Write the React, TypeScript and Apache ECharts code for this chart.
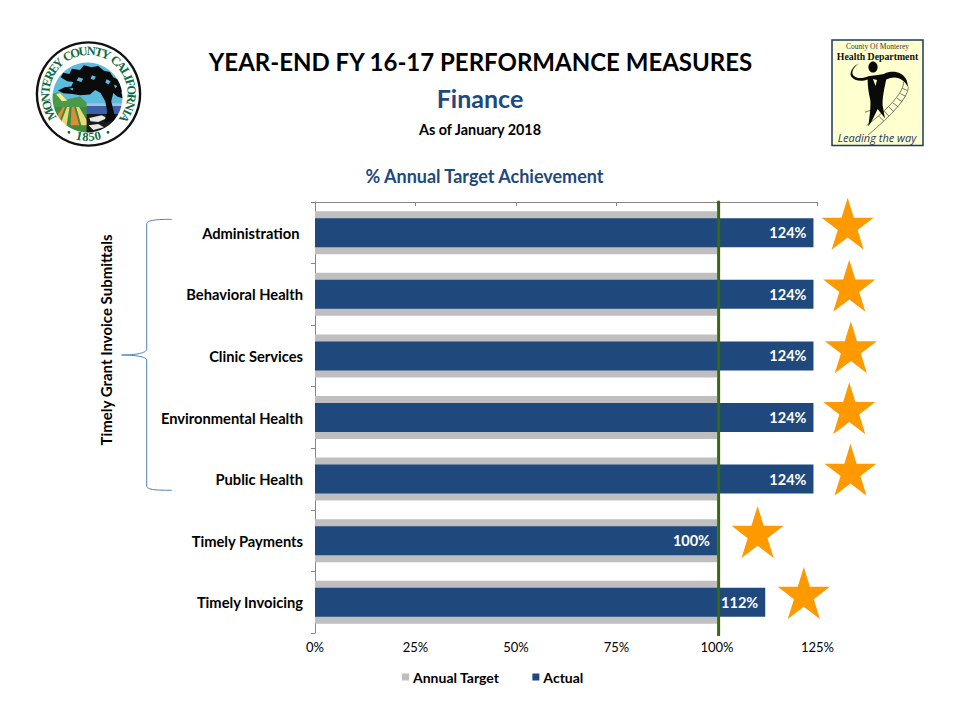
import React, { useEffect, useRef } from "react";
import * as echarts from "echarts";

const categories = ["Administration ", "Behavioral Health", "Clinic Services", "Environmental Health", "Public Health", "Timely Payments", "Timely Invoicing"];
const annualTarget = [100, 100, 100, 100, 100, 100, 100];
const actual = [124, 124, 124, 124, 124, 100, 112];
const xTicks = { min: 0, max: 125, interval: 25 };
const starX = [132.5, 132.9, 133.3, 132.9, 133.2, 110.1, 121.6];
const starY = [0.354, 1.36, 2.36, 3.35, 4.35, 5.36, 6.35];
const targetLineX = [100.4, 100.4];
const targetLineY = [-0.02, 7.05];

const FONT = "Lato";
const NAVY = "#1F497D";
const SKY = "#5DBBDD";
const STAR = "path://M50 0L61.8 36.3L100 36.3L69.1 58.8L80.9 95.1L50 72.6L19.1 95.1L30.9 58.8L0 36.3L38.2 36.3Z";

const SHAPES: Record<string, string> = {
  brace: "M171.7 219.3C158 219.3 146.7 220 146.7 224L146.7 349C146.7 353 136 355 121.7 355C136 355 146.7 357 146.7 360L146.7 486C146.7 490 158 490.3 171.7 490.3",
  sealField: "M55 205L172 205L172 295L55 295Z",
  sealStripeA: "M125 205L132 205L148 262L122 262Z M100 205L106 205L84 262L64 262Z",
  sealStripeB: "M112 205L119 205L110 262L90 262Z M138 205L146 205L172 250L172 262L154 262Z",
  sealHills: "M55 172L85 163L110 185L150 176L172 196L172 207L55 207Z",
  sealSnow: "M78 168L90 166L112 188L96 190Z",
  sealSea: "M170 204L290 204L290 228L170 228Z",
  sealSeaLight: "M170 196L290 196L290 204L170 204Z",
  sealRock: "M170 228L290 228L290 295L170 295Z",
  sealRockW: "M178 240L215 232L232 240L205 252L182 250Z M176 262L205 258L222 268L190 276Z",
  sealTree: "M92 118L100 104L118 108L126 92L150 96L162 82L185 88L205 84L222 98L240 102L250 118L268 126L284 150L274 164L280 182L262 176L250 165L244 190L254 232L264 248L222 254L232 222L226 190L212 165L196 156L180 170L150 172L128 168L100 166L84 158L104 148L124 146L130 132L112 130Z",
  sealHoles: "M146 118L160 122L154 132L140 128Z M186 112L198 116L192 126L182 122Z M230 124L242 130L236 140L226 134Z M118 152L130 150L128 158Z M252 140L262 144L256 152Z",
  figure: "M104 84C90 92 78 108 84 120C92 131 112 132 130 124C140 121 165 120 178 116C200 106 232 108 245 135L251 160C240 132 212 118 184 134C178 160 172 190 173 212L180 250L158 222C150 240 140 260 130 275C134 245 138 215 136 195C130 170 128 150 128 134C112 140 88 140 78 124C72 110 88 90 104 84Z",
  rails: "M250 158C248 190 200 240 130 300 M236 140C238 170 190 222 125 272 M120 232L170 214",
  rungs: "M232 160L246 166 M226 176L242 184 M216 190L232 200 M204 204L220 216 M192 216L206 230 M178 228L192 244 M162 244L176 258",
};
Object.keys(SHAPES).forEach((k) => echarts.graphic.registerShape(k, echarts.graphic.extendPath(SHAPES[k], {} as any)));

const SEAL_TEXT = "MONTEREY COUNTY CALIFORNIA";
const CHAR_W: Record<string, number> = { I: 0.42, M: 0.98, " ": 0.36, T: 0.68, Y: 0.7, E: 0.68, F: 0.62, L: 0.66, C: 0.72, O: 0.78, N: 0.78, U: 0.76, A: 0.76, R: 0.74 };

function sealLetters() {
  const out: any[] = [];
  const cx = 88.5, cy = 94, r = 43;
  const start = -125, end = 129;
  const chars = SEAL_TEXT.split("");
  const total = chars.reduce((s, c) => s + (CHAR_W[c] ?? 0.7), 0);
  let acc = 0;
  const font = "bold 12.5px 'Liberation Serif'";
  chars.forEach((c) => {
    const w = CHAR_W[c] ?? 0.7;
    const deg = start + ((acc + w / 2) / total) * (end - start);
    acc += w;
    if (c === " ") return;
    const a = (deg * Math.PI) / 180;
    out.push({
      type: "text", x: cx + r * Math.sin(a), y: cy - r * Math.cos(a), rotation: -a,
      style: { text: c, fill: "#0E6B3F", font, align: "center", verticalAlign: "middle" },
    });
  });
  "1850".split("").forEach((c, i) => {
    const deg = -12.5 + i * 8.3;
    const a = (deg * Math.PI) / 180;
    out.push({
      type: "text", x: cx + r * Math.sin(a), y: cy + r * Math.cos(a), rotation: a,
      style: { text: c, fill: "#0E6B3F", font, align: "center", verticalAlign: "middle" },
    });
  });
  [-27, 27].forEach((deg) => {
    const a = (deg * Math.PI) / 180;
    out.push({ type: "circle", shape: { cx: cx + r * Math.sin(a), cy: cy + r * Math.cos(a), r: 1.4 }, style: { fill: "#0E6B3F" } });
  });
  return out;
}

const S = 1 / 3;
const sealPath = (type: string, fill: string) => ({ type, x: 30, y: 38, scaleX: S, scaleY: S, style: { fill } });
const deptPath = (type: string, style: any) => ({ type, x: 825, y: 35, scaleX: S, scaleY: S, style });

const graphics: any[] = [
  { type: "brace", style: { fill: "none", stroke: "#4F81BD", lineWidth: 1 } },
  { type: "text", x: 106, y: 340, rotation: Math.PI / 2, style: { text: "Timely Grant Invoice Submittals", fill: "#000", font: `bold 15px ${FONT}`, align: "center", verticalAlign: "middle" } },
  { type: "circle", shape: { cx: 87.5, cy: 97.5, r: 36 }, style: { fill: SKY } },
  sealPath("sealField", "#3E8B3A"),
  sealPath("sealStripeA", "#E08A3C"),
  sealPath("sealStripeB", "#E9D97A"),
  sealPath("sealHills", "#4A9A4A"),
  sealPath("sealSnow", "#F3EE8C"),
  sealPath("sealSeaLight", "#9CC3E0"),
  sealPath("sealSea", "#3C5FAA"),
  sealPath("sealRock", "#1A1A1A"),
  sealPath("sealRockW", "#E8E8E8"),
  sealPath("sealTree", "#0B0B0B"),
  sealPath("sealHoles", SKY),
  { type: "ring", shape: { cx: 87.5, cy: 97.5, r0: 35, r: 60 }, style: { fill: "#fff" } },
  { type: "ring", shape: { cx: 88.5, cy: 94, r0: 50.4, r: 52.8 }, style: { fill: "#111" } },
  ...sealLetters(),
  { type: "rect", shape: { x: 832, y: 40, width: 91, height: 105.5 }, style: { fill: "#FFFFCF", stroke: "#1B3A5E", lineWidth: 1.5 } },
  { type: "text", x: 877.5, y: 46, style: { text: "County Of Monterey", fill: "#333", font: "7.5px 'Liberation Serif'", align: "center", verticalAlign: "middle" } },
  { type: "text", x: 877.5, y: 56, style: { text: "Health Department", fill: "#111", font: "bold 9.8px 'Liberation Serif'", align: "center", verticalAlign: "middle" } },
  deptPath("rails", { fill: "none", stroke: "#333", lineWidth: 2 }),
  deptPath("rungs", { fill: "none", stroke: "#333", lineWidth: 2 }),
  deptPath("figure", { fill: "#0A0A0A" }),
  { type: "ellipse", shape: { cx: 873, cy: 67, rx: 4.6, ry: 5.6 }, style: { fill: "#0A0A0A" } },
  { type: "polygon", shape: { points: [[873, 79], [877, 80], [875.5, 86]] }, style: { fill: "#FFFFCF" } },
  { type: "text", x: 877, y: 137, style: { text: "Leading the way", fill: "#1F3864", font: "italic 11px 'Open Sans'", align: "center", verticalAlign: "middle" } },
];

const titleItem = (text: string, left: number, top: number, size: number, color: string) => ({
  text, left, top, textAlign: "center" as const, padding: 0,
  textStyle: { color, fontFamily: FONT, fontWeight: "bold" as const, fontSize: size },
});

export default function App() {
  const ref = useRef<HTMLDivElement>(null);
  useEffect(() => {
    document.body.style.margin = "0";
    const chart = echarts.init(ref.current!, undefined, { renderer: "svg" });
    const catAxis = { type: "category" as const, data: categories, inverse: true };
    chart.setOption({
      animation: false,
      backgroundColor: "#fff",
      textStyle: { fontFamily: FONT },
      title: [
        titleItem("YEAR-END FY 16-17 PERFORMANCE MEASURES", 480.5, 49, 24, "#000"),
        titleItem("Finance", 480, 85, 25, NAVY),
        titleItem("As of January 2018", 480, 122, 14.4, "#000"),
        titleItem("% Annual Target Achievement", 484.5, 167, 18, NAVY),
      ],
      graphic: graphics,
      legend: {
        data: ["Annual Target", "Actual"], left: 402, top: 670, itemWidth: 7, itemHeight: 7, itemGap: 33, icon: "rect", padding: 0,
        textStyle: { fontFamily: FONT, fontWeight: "bold", fontSize: 14, color: "#000", padding: [0, 0, 0, -1] },
      },
      grid: { left: 315, top: 202, width: 502.5, height: 431, containLabel: false },
      xAxis: {
        type: "value", ...xTicks, splitLine: { show: false },
        axisLine: { show: true, lineStyle: { color: "#868686" } },
        axisTick: { show: true, length: 4, lineStyle: { color: "#868686" } },
        axisLabel: { formatter: "{value}%", color: "#000", fontFamily: FONT, fontSize: 13, margin: 7 },
      },
      yAxis: [
        {
          ...catAxis,
          axisLine: { show: true, lineStyle: { color: "#868686" } },
          axisTick: { show: true, length: 4, lineStyle: { color: "#868686" } },
          axisLabel: { color: "#000", fontFamily: FONT, fontWeight: "bold", fontSize: 14.7, margin: 12, padding: [0, 0, 2, 0] },
        },
        { ...catAxis, show: false },
        { type: "value", min: 0, max: 7, inverse: true, show: false },
      ],
      series: [
        { name: "Annual Target", type: "bar", yAxisIndex: 0, data: annualTarget, barWidth: 43, itemStyle: { color: "#BFBFBF" }, z: 2 },
        {
          name: "Actual", type: "bar", yAxisIndex: 1, data: actual, barWidth: 29, itemStyle: { color: "#1F497D" }, z: 3,
          label: { show: true, position: "insideRight", distance: 7, formatter: "{c}%", color: "#fff", fontFamily: FONT, fontWeight: "bold", fontSize: 14.5 },
        },
        {
          name: "Target line", type: "line", yAxisIndex: 2, data: targetLineX.map((x, i) => [x, targetLineY[i]]),
          symbol: "none", clip: false, lineStyle: { color: "#376A0C", width: 3 }, z: 4,
        },
        {
          name: "Rating", type: "scatter", yAxisIndex: 2, data: starX.map((x, i) => [x, starY[i]]),
          symbol: STAR, symbolSize: 52, clip: false, itemStyle: { color: "#FF9900", opacity: 1 }, z: 5,
        },
      ],
    });
    return () => chart.dispose();
  }, []);
  return <div ref={ref} style={{ width: 960, height: 720 }} />;
}
